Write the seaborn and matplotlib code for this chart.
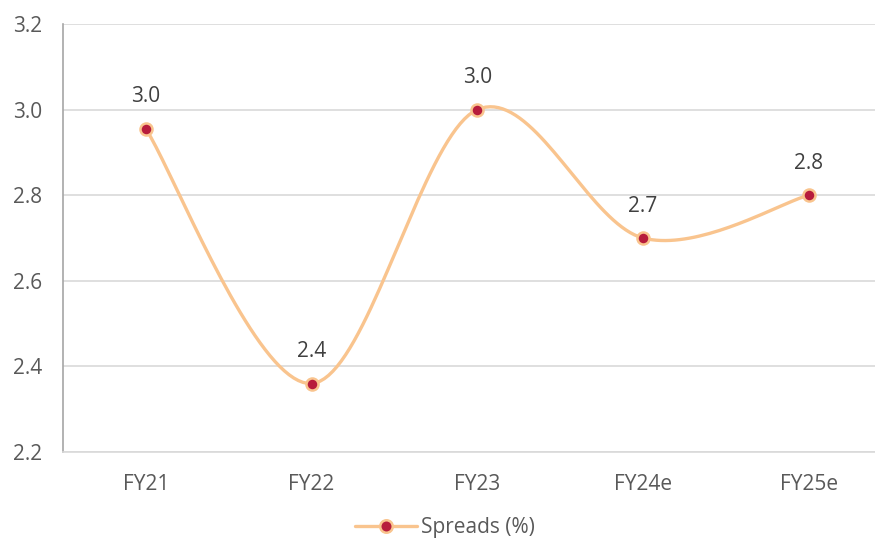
import numpy as np
import pandas as pd
import matplotlib
matplotlib.use("Agg")
import matplotlib.pyplot as plt
import seaborn as sns
from matplotlib.lines import Line2D

categories = ["FY21", "FY22", "FY23", "FY24e", "FY25e"]
spreads = [2.955, 2.36, 3.0, 2.70, 2.80]
labels = ["3.0", "2.4", "3.0", "2.7", "2.8"]
yticks = [2.2, 2.4, 2.6, 2.8, 3.0, 3.2]

sns.set_theme(style="white")
plt.rcParams['font.family'] = ['Open Sans', 'DejaVu Sans']

LINE = "#F9C48E"
MARK = "#B71C3C"
TXT = "#595959"
GRID = "#D9D9D9"
FS = 15

fig = plt.figure(figsize=(8.75, 5.41), dpi=100)
ax = fig.add_axes([63/875, 1-452/541, (875-63)/875, (452-24)/541])

# Excel-like smoothed line (Catmull-Rom Bezier) in data space
x = np.arange(len(spreads), dtype=float)
y = np.array(spreads, dtype=float)
sx, sy = [], []
n = len(x)
t = np.linspace(0, 1, 40)
for i in range(n - 1):
    p0 = np.array([x[max(i-1, 0)], y[max(i-1, 0)]])
    p1 = np.array([x[i], y[i]])
    p2 = np.array([x[i+1], y[i+1]])
    p3 = np.array([x[min(i+2, n-1)], y[min(i+2, n-1)]])
    c1 = p1 + (p2 - p0) / 6
    c2 = p2 - (p3 - p1) / 6
    for tt in t:
        pt = ((1-tt)**3)*p1 + 3*((1-tt)**2)*tt*c1 + 3*(1-tt)*tt**2*c2 + tt**3*p2
        sx.append(pt[0]); sy.append(pt[1])
smooth = pd.DataFrame({"x": sx, "y": sy})
sns.lineplot(data=smooth, x="x", y="y", ax=ax, color=LINE, lw=2.4, sort=False,
             estimator=None, zorder=3)

df = pd.DataFrame({"x": x, "y": y})
sns.scatterplot(data=df, x="x", y="y", ax=ax, color=MARK, s=75,
                edgecolor=LINE, linewidth=1.8, zorder=4)

for xi, yi, lab in zip(x, y, labels):
    ax.annotate(lab, (xi, yi), xytext=(0, 23), textcoords="offset points",
                ha="center", va="center", fontsize=FS, color="#404040")

ax.set_xlim(-0.5, 4.4)
ax.set_ylim(2.2, 3.2)
ax.set_yticks(yticks)
ax.set_yticklabels([f"{v:.1f}" for v in yticks])
ax.set_xticks(x)
ax.set_xticklabels(categories)
ax.tick_params(axis="y", length=0, pad=15, labelsize=FS, labelcolor=TXT)
ax.tick_params(axis="x", length=0, pad=16, labelsize=FS, labelcolor=TXT)
ax.set_xlabel("")
ax.set_ylabel("")
ax.grid(axis="y", color=GRID, lw=1.2)
ax.set_axisbelow(True)
for s in ["top", "right"]:
    ax.spines[s].set_visible(False)
ax.spines["left"].set_color("#A6A6A6")
ax.spines["left"].set_linewidth(1.2)
ax.spines["bottom"].set_color(GRID)
ax.spines["bottom"].set_linewidth(1.2)

handle = Line2D([0], [0], color=LINE, lw=2.4, marker="o", markersize=9,
                markerfacecolor=MARK, markeredgecolor=LINE, markeredgewidth=1.8)
fig.legend([handle], ["Spreads (%)"], loc="center", bbox_to_anchor=(445/875, 1-528/541),
           frameon=False, fontsize=FS, labelcolor=TXT, handlelength=3.0,
           handletextpad=0.2, borderpad=0.1)

fig.savefig("out.png", dpi=100)
